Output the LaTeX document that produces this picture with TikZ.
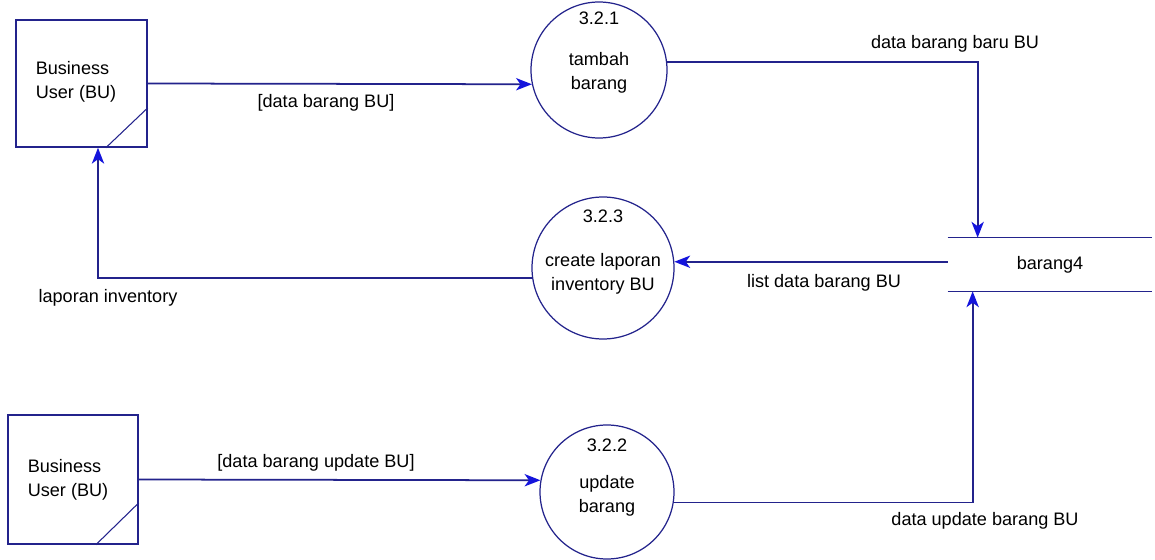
\documentclass[tikz,border=0pt]{standalone}
\usepackage{fontspec}
\setmainfont{Liberation Sans}
\usetikzlibrary{arrows.meta,calc}
\definecolor{navy}{RGB}{35,35,140}
\definecolor{tipblue}{RGB}{20,20,220}
\begin{document}
\begin{tikzpicture}[x=0.02cm,y=-0.02cm,
  font=\fontsize{10.3}{14}\selectfont,
  entity/.style={draw=navy,line width=0.9pt,minimum width=131*0.02cm,minimum height=127*0.02cm,inner sep=0pt},
  proc/.style={draw=navy,line width=0.7pt,circle,inner sep=0pt},
  store/.style={minimum width=204*0.02cm,minimum height=53*0.02cm,inner sep=0pt},
  flow/.style={draw=navy,line width=1pt,-{Stealth[length=9pt,width=7pt,inset=2.5pt,fill=tipblue,color=tipblue]}},
  lbl/.style={inner sep=0pt,align=center}]
\fill[white] (0,0) rectangle (1155,560);
\useasboundingbox (0,0) rectangle (1155,560);
% entities
\node[entity] (b1) at (81.5,83.5) {};
\node[lbl,align=left] (b1t) at (76,82) {Business\\User (BU)};
\draw[navy,line width=0.6pt] ([yshift=0.8cm]b1.south east) -- ([xshift=-0.84cm]b1.south east);
\node[entity,minimum width=130*0.02cm,minimum height=129*0.02cm] (b2) at (73,479.5) {};
\node[lbl,align=left] (b2t) at (68,480) {Business\\User (BU)};
\draw[navy,line width=0.6pt] ([yshift=0.84cm]b2.south east) -- ([xshift=-0.86cm]b2.south east);
% processes
\node[proc,minimum size=136*0.02cm] (c1) at (599,70) {};
\node[lbl] (c1n) at (599,18) {3.2.1};
\node[lbl] (c1t) at (599,73) {tambah\\barang};
\node[proc,minimum size=142*0.02cm] (c3) at (603,268) {};
\node[lbl] (c3n) at (603,216) {3.2.3};
\node[lbl] (c3t) at (603,274) {create laporan\\inventory BU};
\node[proc,minimum size=134*0.02cm] (c2) at (607,492) {};
\node[lbl] (c2n) at (607,445) {3.2.2};
\node[lbl] (c2t) at (607,496) {update\\barang};
% data store
\node[store] (s) at (1050,264.5) {barang4};
\draw[navy,line width=0.9pt] (s.north west) -- (s.north east);
\draw[navy,line width=0.9pt] (s.south west) -- (s.south east);
% flows
\draw[flow] (b1.east) -- (c1.192);
\draw[flow] (c1.7) -| ([xshift=0.6cm]s.north west);
\draw[flow] (s.west |- c3.5) -- (c3.5);
\draw[flow] (c3.188) -| ([xshift=0.33cm]b1.south);
\draw[flow] (b2.east) -- (c2.170);
\draw[flow] (c2.-9.5) -| ([xshift=0.5cm]s.south west);
% flow labels
\node[lbl] (l1) at (326,103) {[data barang BU]};
\node[lbl] (l2) at (955,44) {data barang baru BU};
\node[lbl] (l3) at (824,283) {list data barang BU};
\node[lbl] (l4) at (108,298) {laporan inventory};
\node[lbl] (l5) at (316,463) {[data barang update BU]};
\node[lbl] (l6) at (985,521) {data update barang BU};
\end{tikzpicture}
\end{document}
